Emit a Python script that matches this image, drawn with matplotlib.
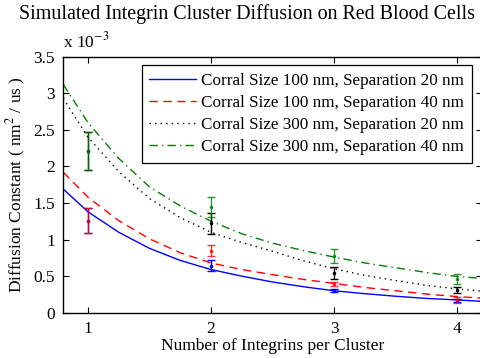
import matplotlib
matplotlib.use("Agg")
import matplotlib.pyplot as plt
from matplotlib.ticker import FuncFormatter

plt.rcParams["font.family"] = ["Liberation Serif", "DejaVu Serif"]
plt.rcParams["mathtext.fontset"] = "stix"

# fitted curves (units of 1e-3 nm^2/us)
x_fit = [0.8, 1.0, 1.25, 1.5, 1.75, 2.0, 2.25, 2.5, 2.75, 3.0, 3.25, 3.5, 3.75, 4.0, 4.2]
fit_100_20 = [1.69, 1.38, 1.10, 0.88, 0.715, 0.59, 0.50, 0.42, 0.355, 0.30, 0.26, 0.225, 0.195, 0.175, 0.155]
fit_100_40 = [1.92, 1.58, 1.26, 1.01, 0.82, 0.68, 0.59, 0.52, 0.455, 0.40, 0.345, 0.30, 0.255, 0.22, 0.20]
fit_300_20 = [2.93, 2.40, 1.93, 1.56, 1.30, 1.10, 0.96, 0.84, 0.71, 0.60, 0.51, 0.44, 0.375, 0.325, 0.295]
fit_300_40 = [3.12, 2.60, 2.11, 1.72, 1.46, 1.25, 1.08, 0.95, 0.85, 0.76, 0.68, 0.615, 0.55, 0.495, 0.47]

# simulation means and error bars
n_int = [1, 2, 3, 4]
mean_100_20 = [1.26, 0.64, 0.30, 0.17]
err_100_20 = [0.167, 0.075, 0.02, 0.02]
mean_100_40 = [1.26, 0.85, 0.39, 0.178]
err_100_40 = [0.167, 0.076, 0.025, 0.04]
mean_300_20 = [2.21, 1.22, 0.545, 0.315]
err_300_20 = [0.26, 0.137, 0.085, 0.043]
mean_300_40 = [2.21, 1.452, 0.78, 0.462]
err_300_40 = [0.26, 0.137, 0.095, 0.07]

labels = [
    "Corral Size 100 nm, Separation 20 nm",
    "Corral Size 100 nm, Separation 40 nm",
    "Corral Size 300 nm, Separation 20 nm",
    "Corral Size 300 nm, Separation 40 nm",
]

fig = plt.figure(figsize=(4.81, 3.58), dpi=100)
ax = fig.add_axes([0.1316, 0.1265, 0.8705, 0.715])

blue, red, black, green = "#0000ff", "#ff0000", "#000000", "#008000"

ax.plot(x_fit, fit_100_20, color=blue, lw=1.0, ls="-", label=labels[0])
ax.plot(x_fit, fit_100_40, color=red, lw=1.0, ls=(0, (6, 4)), label=labels[1])
ax.plot(x_fit, fit_300_20, color=black, lw=1.0, ls=(0, (1, 3)), label=labels[2])
ax.plot(x_fit, fit_300_40, color=green, lw=1.0, ls=(0, (6, 3, 1, 3)), label=labels[3])

eb = dict(fmt=".", ms=3, capsize=3, elinewidth=1.0, capthick=1.0)
ax.errorbar(n_int, mean_100_20, yerr=err_100_20, color=blue, **eb)
ax.errorbar(n_int, mean_100_40, yerr=err_100_40, color=red, alpha=0.8, **eb)
ax.errorbar(n_int, mean_300_20, yerr=err_300_20, color=black, **eb)
ax.errorbar(n_int, mean_300_40, yerr=err_300_40, color=green, alpha=0.8, **eb)

ax.set_xlim(0.8, 4.2)
ax.set_ylim(0, 3.5)
ax.set_xticks([1, 2, 3, 4])
ax.set_yticks([0, 0.5, 1, 1.5, 2, 2.5, 3, 3.5])
ax.yaxis.set_major_formatter(FuncFormatter(lambda v, p: "%g" % v))
ax.tick_params(direction="in", top=True, right=True, length=4, width=0.8,
               labelsize=12.5, pad=6)
for s in ax.spines.values():
    s.set_linewidth(1.0)

ax.set_xlabel("Number of Integrins per Cluster", fontsize=12.5, labelpad=1)
ax.set_ylabel("Diffusion Constant ( nm$^2$ / us )", fontsize=12.5, labelpad=4)
fig.text(0.513, 0.96, "Simulated Integrin Cluster Diffusion on Red Blood Cells",
         ha="center", va="center", fontsize=14.4)
fig.text(0.131, 0.885, "x 10$^{-3}$", ha="left", va="center", fontsize=12.5)

leg = ax.legend(loc="upper right", bbox_to_anchor=(0.976, 0.968), borderaxespad=0,
                fontsize=12.3, handlelength=2.75, borderpad=0.45, labelspacing=0.36,
                handletextpad=0.3, fancybox=False, framealpha=1)
leg.get_frame().set_edgecolor("black")
leg.get_frame().set_linewidth(0.9)

fig.savefig("out.png", dpi=100)
